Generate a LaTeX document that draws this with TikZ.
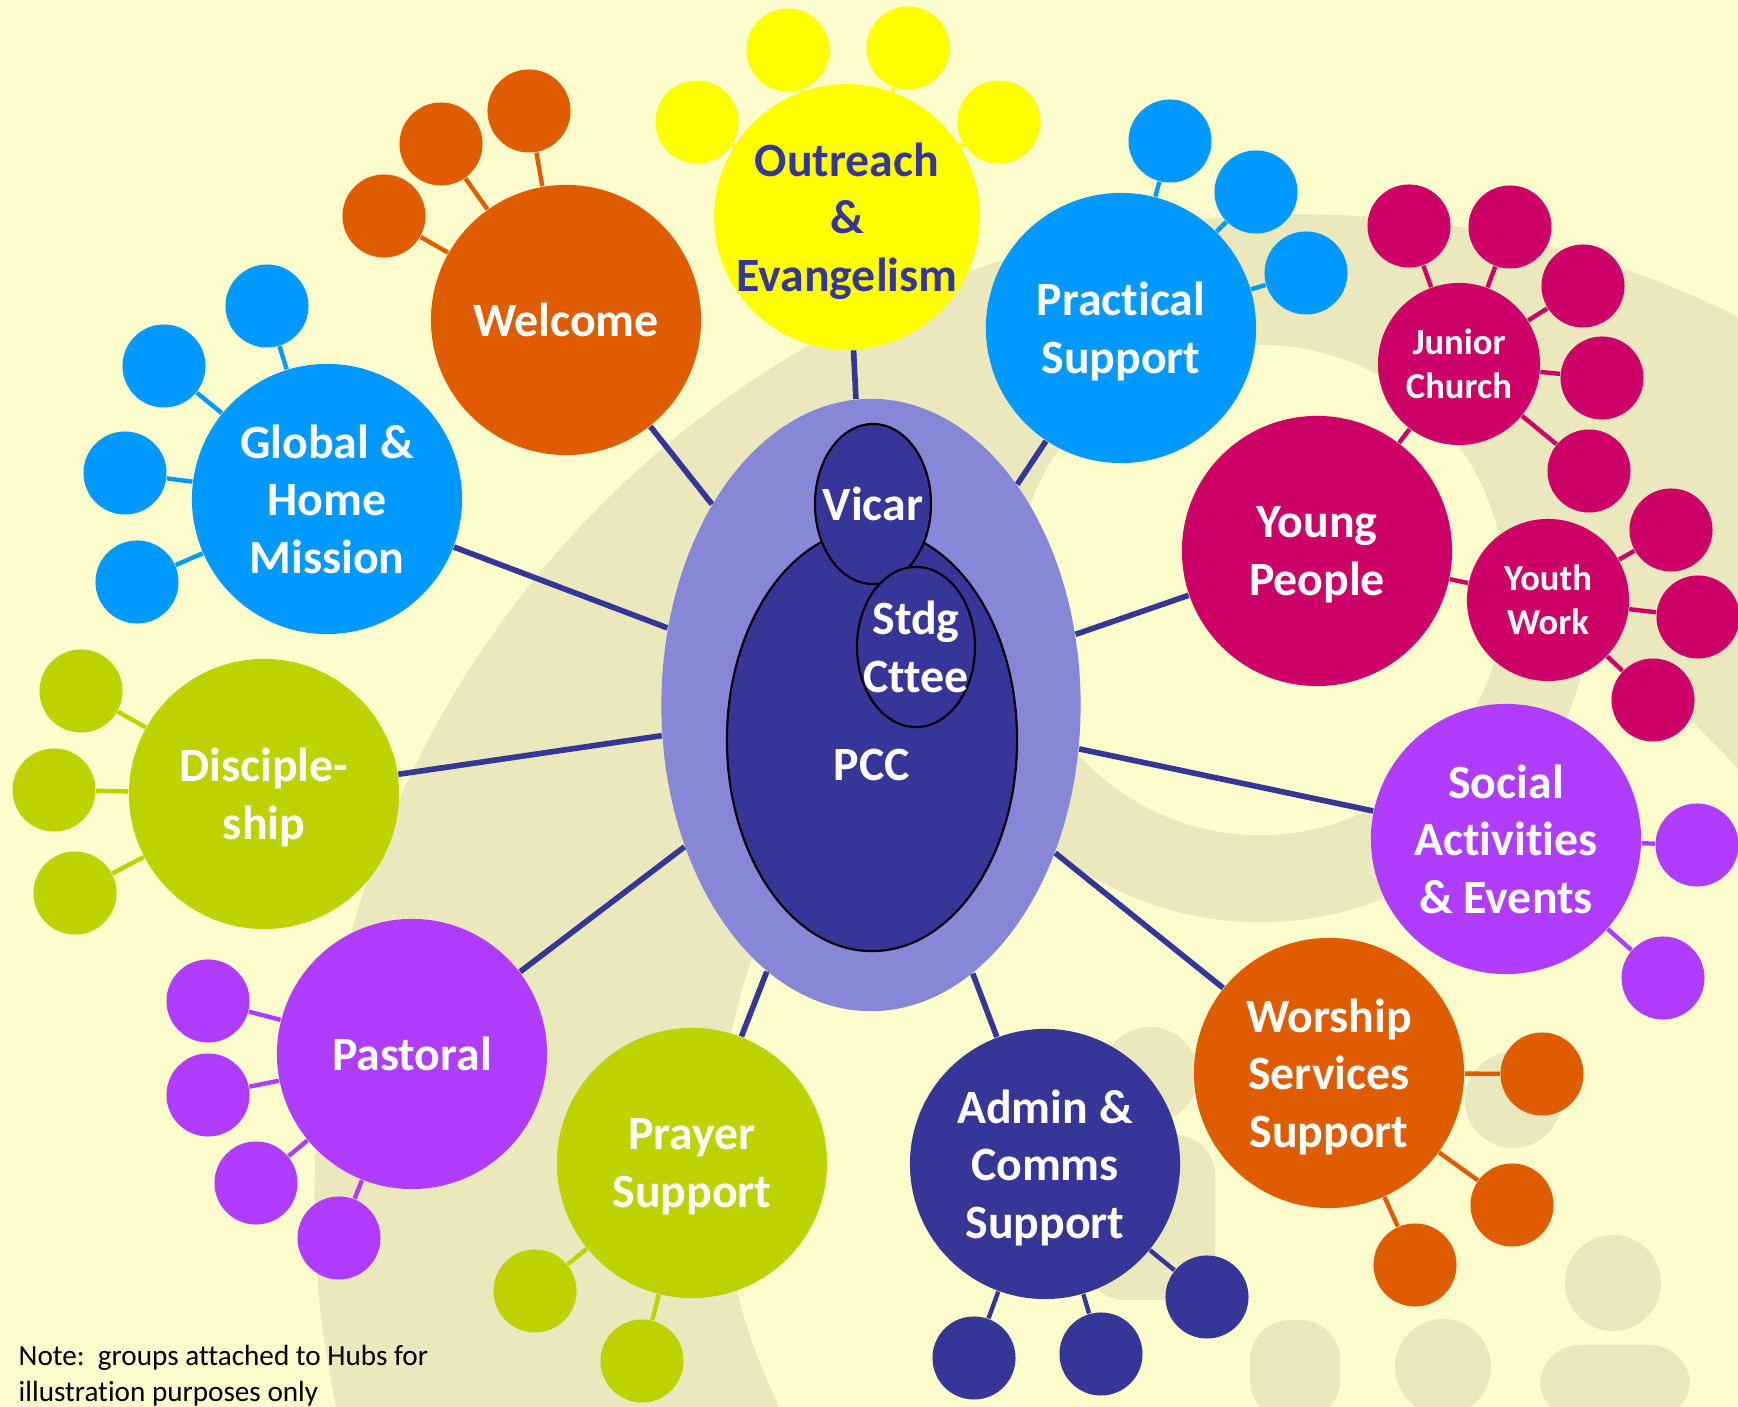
\documentclass[tikz,border=0pt]{standalone}
\usepackage{fontspec}
\setmainfont[Ligatures=CommonOff]{Carlito}
\usetikzlibrary{shapes.geometric,backgrounds}

\definecolor{bgyellow}{RGB}{252,252,204}
\definecolor{wmark}{RGB}{234,232,188}
\definecolor{navy}{RGB}{54,54,152}
\definecolor{lavender}{RGB}{135,135,215}
\definecolor{hubyellow}{RGB}{255,255,0}
\definecolor{huborange}{RGB}{224,92,0}
\definecolor{hubblue}{RGB}{0,153,255}
\definecolor{hubgreen}{RGB}{190,210,0}
\definecolor{hubpurple}{RGB}{176,60,255}
\definecolor{hubmagenta}{RGB}{204,0,102}

\tikzset{
  hubfont/.style={font=\fontsize{13.6}{16.4}\selectfont\bfseries},
  hub/.style={circle, minimum size=2.7cm, inner sep=0pt, align=center, text=white, hubfont,
    text depth=0pt},
  subhub/.style={circle, minimum size=1.62cm, inner sep=0pt, align=center, text=white,
    font=\fontsize{10.4}{12.6}\selectfont\bfseries},
  sat/.style={circle, minimum size=.83cm, inner sep=0pt},
  inner/.style={ellipse, fill=navy, draw=black, line width=.6pt, inner sep=0pt},
  innertext/.style={text=white, align=center, hubfont},
  spoke/.style={navy, line width=1.6pt},
  twig/.style={line width=1.25pt}
}

\begin{document}
\begin{tikzpicture}[x=.01cm, y=-.01cm]
\useasboundingbox (0,0) rectangle (1738,1407);
% the PCC in the middle
\node at (871,705)[ellipse, fill=lavender, minimum width=4.19cm, minimum height=6.12cm](core){};
\node at (872,740)[inner, minimum width=2.9cm, minimum height=4.22cm,
    label={[innertext, yshift=-.25cm]center:PCC}](pcc){};
\node at (873,504)[inner, minimum width=1.16cm, minimum height=1.6cm,
    label={[innertext]center:Vicar}](vicar){};
\node at (916,647)[inner, minimum width=1.18cm, minimum height=1.6cm,
    label={[innertext]center:Stdg\\Cttee}](stdg){};
% hubs
\node at (847,217)[hub, minimum size=2.54cm, fill=hubyellow, text=navy](outreach){Outreach\\\&\\Evangelism};
\node at (566,320)[hub, fill=huborange](welcome){Welcome};
\node at (327,499)[hub, fill=hubblue](mission){Global \&\\Home\\Mission};
\node at (264,794)[hub, fill=hubgreen](disciple){Disciple-\\ship};
\node at (412,1054)[hub, fill=hubpurple](pastoral){Pastoral};
\node at (692,1163)[hub, fill=hubgreen](prayer){Prayer\\Support};
\node at (1045,1164)[hub, fill=navy](admin){Admin \&\\Comms\\Support};
\node at (1329,1073)[hub, fill=huborange](worship){Worship\\Services\\Support};
\node at (1506,839)[hub, fill=hubpurple](social){Social\\Activities\\\& Events};
\node at (1317,551)[hub, fill=hubmagenta](young){Young\\People};
\node at (1121,328)[hub, fill=hubblue](practical){Practical\\Support};
\node at (1459,364)[subhub, fill=hubmagenta](junior){Junior\\Church};
\node at (1548,600)[subhub, fill=hubmagenta](youth){Youth\\Work};
% groups round the hubs
\foreach \x/\y [count=\i] in {697/122,788/50,908/48,999/122}
{
    \node at (\x,\y)[sat, fill=hubyellow](out\i){};
}
\foreach \x/\y [count=\i] in {529/111,441/144,384/216}
{
    \node at (\x,\y)[sat, fill=huborange](wel\i){};
}
\foreach \x/\y [count=\i] in {267/306,164/366,125/473,137/582}
{
    \node at (\x,\y)[sat, fill=hubblue](mis\i){};
}
\foreach \x/\y [count=\i] in {81/691,54/790,75/893}
{
    \node at (\x,\y)[sat, fill=hubgreen](dis\i){};
}
\foreach \x/\y [count=\i] in {208/1001,208/1095,256/1183,339/1238}
{
    \node at (\x,\y)[sat, fill=hubpurple](pas\i){};
}
\foreach \x/\y [count=\i] in {535/1291,642/1361}
{
    \node at (\x,\y)[sat, fill=hubgreen](pra\i){};
}
\foreach \x/\y [count=\i] in {974/1358,1101/1354,1207/1297}
{
    \node at (\x,\y)[sat, fill=navy](adm\i){};
}
\foreach \x/\y [count=\i] in {1542/1074,1512/1205,1415/1265}
{
    \node at (\x,\y)[sat, fill=huborange](wor\i){};
}
\foreach \x/\y [count=\i] in {1697/845,1663/978}
{
    \node at (\x,\y)[sat, fill=hubpurple](soc\i){};
}
\foreach \x/\y [count=\i] in {1409/226,1510/227,1583/286,1602/378,1589/471}
{
    \node at (\x,\y)[sat, fill=hubmagenta](jun\i){};
}
\foreach \x/\y [count=\i] in {1671/530,1698/617,1653/700}
{
    \node at (\x,\y)[sat, fill=hubmagenta](you\i){};
}
\foreach \x/\y [count=\i] in {1170/141,1256/192,1306/273}
{
    \node at (\x,\y)[sat, fill=hubblue](prac\i){};
}
\node at (18,1345)[anchor=north west, inner sep=0pt, align=left, font=\fontsize{8.3}{10.1}\selectfont](note){Note:\ \ groups attached to Hubs for\\illustration purposes only};
% background, watermark and lines
\begin{scope}[on background layer]
\fill[bgyellow] (0,0) rectangle (1738,1407);
\begin{scope}
\clip (0,0) rectangle (1738,1407);
\fill[wmark] (1300,1200) circle (9.85cm);
\fill[bgyellow] (1300,1150) circle (5.8cm);
\fill[wmark] (1260,590) circle (3.32cm);
\fill[bgyellow] (1260,590) circle (2.45cm);
\foreach \x/\y in {1150/1075,1513/1100,1443/1367,1613/1283}
{
    \fill[wmark] (\x,\y) circle (.48cm);
}
\fill[wmark, rounded corners=.4cm] (1085,1135) rectangle (1215,1300);
\fill[wmark, rounded corners=.4cm] (1540,1345) rectangle (1690,1420);
\fill[wmark, rounded corners=.4cm] (1250,1320) rectangle (1340,1420);
\end{scope}
\foreach \n in {outreach,welcome,mission,disciple,pastoral,prayer,admin,worship,social,young,practical}
{
    \draw[spoke](core) -- (\n);
}
\foreach \i in {1,...,4} \draw[twig, hubyellow](outreach) -- (out\i);
\foreach \i in {1,...,3} \draw[twig, huborange](welcome) -- (wel\i);
\foreach \i in {1,...,4} \draw[twig, hubblue](mission) -- (mis\i);
\foreach \i in {1,...,3} \draw[twig, hubgreen](disciple) -- (dis\i);
\foreach \i in {1,...,4} \draw[twig, hubpurple](pastoral) -- (pas\i);
\foreach \i in {1,2} \draw[twig, hubgreen](prayer) -- (pra\i);
\foreach \i in {1,...,3} \draw[twig, navy](admin) -- (adm\i);
\foreach \i in {1,...,3} \draw[twig, huborange](worship) -- (wor\i);
\foreach \i in {1,2} \draw[twig, hubpurple](social) -- (soc\i);
\foreach \i in {1,...,5} \draw[twig, hubmagenta](junior) -- (jun\i);
\foreach \i in {1,...,3} \draw[twig, hubmagenta](youth) -- (you\i);
\foreach \i in {1,...,3} \draw[twig, hubblue](practical) -- (prac\i);
\draw[twig, hubmagenta](young) -- (junior);
\draw[twig, hubmagenta](young) -- (youth);
\end{scope}
\end{tikzpicture}
\end{document}
